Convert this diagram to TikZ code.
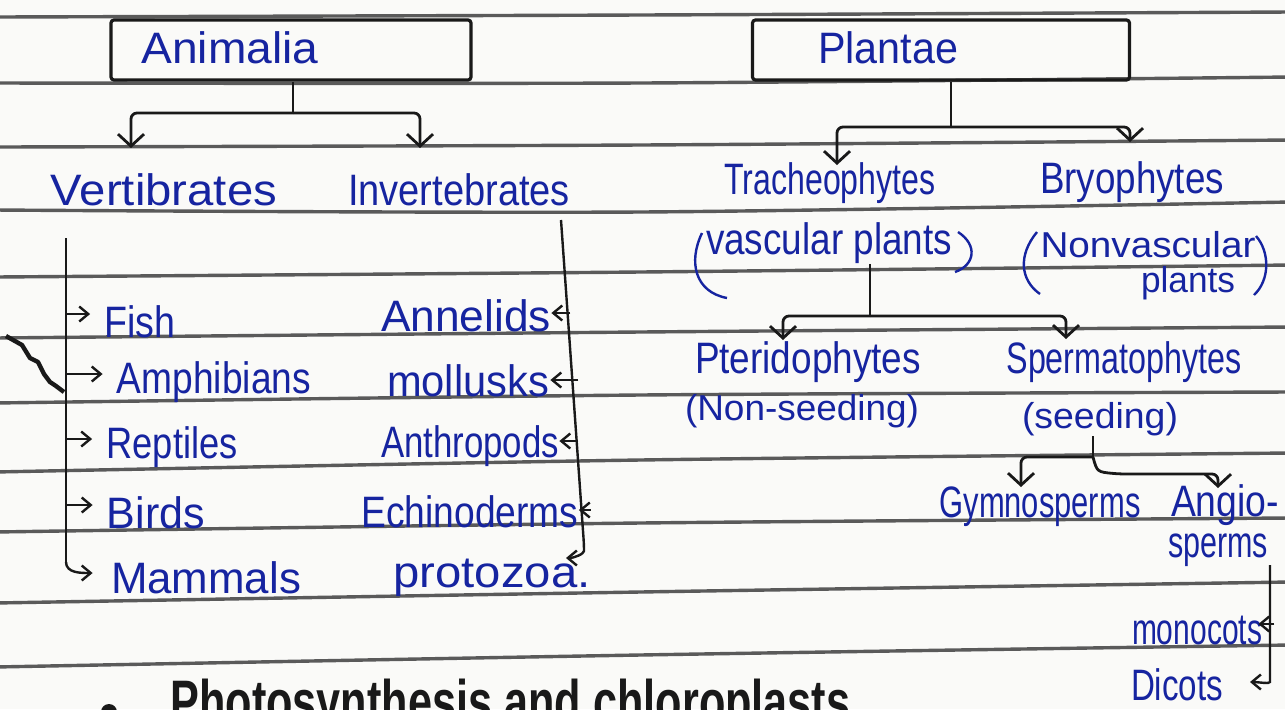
\documentclass[tikz,border=0pt]{standalone}
\usepackage{fontspec}
\setmainfont{Liberation Sans}
\usepackage{graphicx}
\usetikzlibrary{arrows.meta,calc}
\definecolor{ink}{RGB}{22,36,160}
\definecolor{pen}{RGB}{25,25,25}
\definecolor{rulecol}{RGB}{90,90,90}
\definecolor{paper}{RGB}{250,250,248}
\newcommand{\fitw}[2]{\resizebox{#1}{\height}{#2}}
\tikzset{
  txt/.style={inner sep=0pt, text=ink, font=\fontsize{22}{26}\selectfont},
  smalltxt/.style={txt, font=\fontsize{18}{22}\selectfont},
  box/.style={draw=pen, line width=1.6pt, rounded corners=1.5pt, inner sep=0pt},
  conn/.style={draw=pen, line width=1.4pt, rounded corners=3pt},
  fork/.style={conn, -{Straight Barb[length=6pt,width=13pt]}},
  sa/.style={draw=pen, line width=1.2pt, rounded corners=3pt, -{Straight Barb[length=4.5pt,width=7.5pt]}},
  rulestyle/.style={draw=rulecol, line width=1.7pt},
  paren/.style={draw=ink, line width=1.2pt},
}
\begin{document}
\begin{tikzpicture}[x=0.5pt,y=-0.5pt]
\useasboundingbox (0,0) rectangle (1285,709);
\clip (0,0) rectangle (1285,709);
\fill[paper] (0,0) rectangle (1285,709);
% ruled lines
\foreach \a/\b/\c in {17/15/12, 83/83/77, 147/145/140, 210/212/202, 277/272/265, 338/332/327, 403/395/392, 472/460/453, 532/523/518, 603/592/582, 667/655/645}
  \draw[rulestyle] plot[smooth] coordinates {(-5,\a) (640,\b) (1290,\c)};

% ---------------- Animalia ----------------
\node[box, minimum width=180pt, minimum height=30pt] (animaliaBox) at (291,50) {};
\node[txt] (animalia) at (230,48) {\fitw{88.5pt}{Animalia}};
\coordinate (aj) at (293,113);
\coordinate (vtip) at (131,148);
\coordinate (itip) at (420,148);
\draw[conn] (animaliaBox.south -| aj) -- (aj);
\draw[fork] (aj) -| (vtip);
\draw[fork] (aj) -| (itip);

\node[txt] (vert) at (164,190) {\fitw{113pt}{Vertibrates}};
\node[txt] (invert) at (459,190) {\fitw{111pt}{Invertebrates}};

% vertebrates
\node[txt] (fish) at (140,322) {\fitw{35.5pt}{Fish}};
\node[txt] (amph) at (214,382) {\fitw{97pt}{Amphibians}};
\node[txt] (rept) at (172,447) {\fitw{65.5pt}{Reptiles}};
\node[txt] (birds) at (156,513) {\fitw{49pt}{Birds}};
\node[txt] (mamm) at (206,578) {\fitw{95pt}{Mammals}};
\coordinate (vtop) at (66,238);
\coordinate (vbot) at (66,562);
\draw[conn] (vtop) -- (vbot);
\foreach \n in {fish,amph,rept,birds}
  \draw[sa] ($(vtop |- \n.west)+(0,-8)$) -- ($(\n.west)+(-14,-8)$);
\draw[sa] (vbot) to[out=-90,in=180] ($(mamm.west)+(-18,-5)$);

% invertebrates
\node[txt] (anne) at (466,316) {\fitw{85pt}{Annelids}};
\node[txt] (moll) at (468,381) {\fitw{81pt}{mollusks}};
\node[txt] (anth) at (470,446) {\fitw{89pt}{Anthropods}};
\node[txt] (echi) at (470,512) {\fitw{108.5pt}{Echinoderms}};
\node[txt] (prot) at (492,578) {\fitw{98.5pt}{protozoa.}};
\coordinate (itop) at (561,220);
\coordinate (ibot) at (584,545);
\coordinate (iend) at (566,558);
\draw[sa] (itop) -- (ibot) to[out=-90,in=0] (iend);
\draw[sa] ($(anne.east)+(19,-3)$) -- ($(anne.east)+(0,-3)$);
\draw[sa] ($(moll.east)+(29,-1)$) -- ($(moll.east)+(1,-1)$);
\draw[sa] ($(anth.east)+(19,-5)$) -- ($(anth.east)+(0,-5)$);
\draw[sa] ($(echi.east)+(12,-2)$) -- ($(echi.east)+(0,-2)$);

% ---------------- Plantae ----------------
\node[box, minimum width=188.5pt, minimum height=30pt] (plantaeBox) at (941,50) {};
\node[txt] (plantae) at (888,48) {\fitw{70pt}{Plantae}};
\coordinate (pj) at (951,127);
\coordinate (ttip) at (837,165);
\coordinate (btip) at (1130,142);
\draw[conn] (plantaeBox.south -| pj) -- (pj);
\draw[fork] (pj) -| (ttip);
\draw[fork] (pj) -| (btip);

\node[txt] (trach) at (830,183) {\fitw{105.5pt}{Tracheophytes}};
\node[txt] (vasc) at (829,243) {\fitw{123pt}{vascular plants}};
\draw[paren] (702,233) .. controls (688,262) and (695,292) .. (727,298);
\draw[paren] (958,232) .. controls (978,245) and (975,265) .. (955,272);
\node[txt] (bryo) at (1132,182) {\fitw{92pt}{Bryophytes}};
\node[smalltxt] (nonv) at (1148,245) {\fitw{107.5pt}{Nonvascular}};
\node[smalltxt] (plnt) at (1188,283) {\fitw{47pt}{plants}};
\draw[paren] (1037,232) .. controls (1018,255) and (1020,280) .. (1040,294);
\draw[paren] (1256,236) .. controls (1270,252) and (1270,280) .. (1254,295);

\coordinate (vj) at (870,316);
\coordinate (ptip) at (783,340);
\coordinate (stip) at (1066,339);
\draw[conn] (vasc.south -| vj) -- (vj);
\draw[fork] (vj) -| (ptip);
\draw[fork] (vj) -| (stip);

\node[txt] (pter) at (808,362) {\fitw{113pt}{Pteridophytes}};
\node[smalltxt] (nons) at (802,411) {\fitw{117pt}{(Non-seeding)}};
\node[txt] (sperm) at (1124,362) {\fitw{117.5pt}{Spermatophytes}};
\node[smalltxt] (seed) at (1100,419) {\fitw{78pt}{(seeding)}};

\coordinate (sj) at (1093,457);
\coordinate (gtip) at (1021,487);
\coordinate (atip) at (1218,488);
\draw[conn] (seed.south -| sj) -- (sj);
\draw[fork] (sj) -| (gtip);
\draw[fork] (sj) .. controls (1097,472) .. (1120,474) -| (atip);

\node[txt] (gymn) at (1040,507) {\fitw{100.5pt}{Gymnosperms}};
\node[txt] (angio) at (1225,505) {\fitw{54pt}{Angio-}};
\node[txt] (sperms) at (1218,550) {\fitw{50pt}{sperms}};

\coordinate (atop) at (1270,565);
\coordinate (abot) at (1270,676);
\coordinate (aend) at (1250,682);
\draw[sa] (atop) -- (abot) to[out=-90,in=0] (aend);
\node[txt] (mono) at (1197,630) {\fitw{65pt}{monocots}};
\node[txt] (dico) at (1177,685) {\fitw{46pt}{Dicots}};
\draw[sa] ($(mono.east)+(12,-6)$) -- ($(mono.east)+(-4,-6)$);

% torn edge mark
\draw[pen, line width=2.2pt, line join=round] (6,336) -- (22,345) -- (30,358) -- (38,362) -- (44,374) -- (50,382) -- (56,386) -- (64,392);

% bottom heading (cut off by page edge)
\node[circle, fill=pen, minimum size=8pt, inner sep=0pt] (bullet) at (109,712) {};
\node[anchor=base west, text=pen, font=\bfseries\fontsize{30}{34}\selectfont, inner sep=0pt] (photo) at (170,722) {\fitw{340pt}{Photosynthesis and chloroplasts}};
\end{tikzpicture}
\end{document}
